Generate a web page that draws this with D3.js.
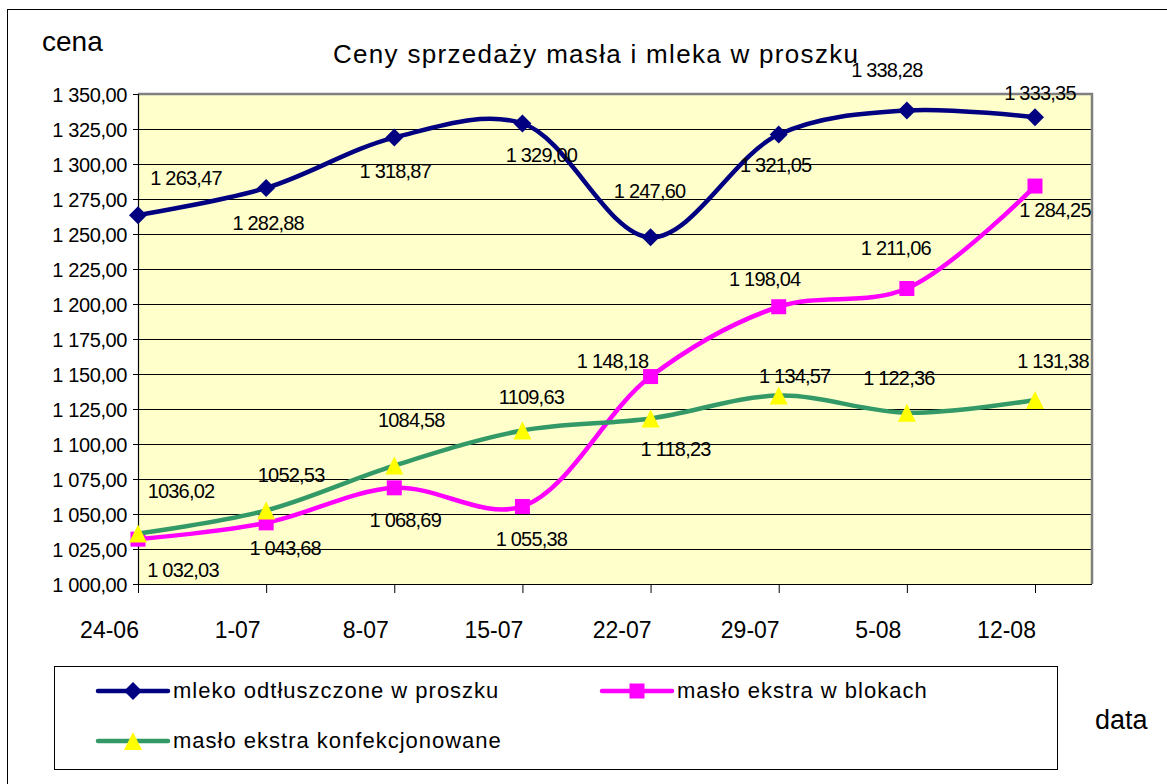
<!DOCTYPE html>
<html>
<head>
<meta charset="utf-8">
<script src="https://cdn.jsdelivr.net/npm/d3@7"></script>
<style>
  html, body { margin: 0; padding: 0; background: #fff; }
  svg { display: block; font-family: "Liberation Sans", Arial, sans-serif; }
</style>
</head>
<body>
<svg id="chart" width="1167" height="784"></svg>
<script>
// ---- data ----
const categories = ["24-06", "1-07", "8-07", "15-07", "22-07", "29-07", "5-08", "12-08"];
const mleko = [1263.47, 1282.88, 1318.87, 1329.00, 1247.60, 1321.05, 1338.28, 1333.35];
const blokach = [1032.03, 1043.68, 1068.69, 1055.38, 1148.18, 1198.04, 1211.06, 1284.25];
const konfekcjonowane = [1036.02, 1052.53, 1084.58, 1109.63, 1118.23, 1134.57, 1122.36, 1131.38];
const konfGrouped = [false, false, false, false, true, true, true, true];
const yTicks = [1000, 1025, 1050, 1075, 1100, 1125, 1150, 1175, 1200, 1225, 1250, 1275, 1300, 1325, 1350];
const seriesNames = ["mleko odtłuszczone w proszku", "masło ekstra w blokach", "masło ekstra konfekcjonowane"];
const title = "Ceny sprzedaży masła i mleka w proszku";
const yTitle = "cena";
const xTitle = "data";

// ---- label placement (offsets relative to the point, px) ----
const offMleko = [[48,-30],[2,42],[1,40],[19,39],[-1,-39],[-3,37],[-20,-33],[5,-17]];
const offBlok = [[45,38],[19,32],[11,39],[9,40],[-38,-9],[-14,-21],[-11,-34],[20,31]];
const offKonf = [[43,-36],[25,-28],[17,-39],[9,-27],[25,38],[16,-13],[-8,-28],[18,-32]];

// ---- formatting ----
function fmt(v, grouped) {
  const parts = v.toFixed(2).split(".");
  let int = parts[0];
  if (grouped) int = int.replace(/\B(?=(\d{3})+(?!\d))/g, " ");
  return int + "," + parts[1];
}

const svg = d3.select("#chart");
const plot = { left: 138, top: 94, right: 1092, bottom: 584 };

const x = d3.scalePoint().domain(categories).range([138, 1035]);
const y = d3.scaleLinear().domain([1000, 1350]).range([plot.bottom, plot.top]);

// outer chart border
svg.append("rect").attr("x", 7.5).attr("y", 9.5).attr("width", 1200).attr("height", 800)
  .attr("fill", "#fff").attr("stroke", "#000").attr("stroke-width", 1);

// plot background
svg.append("rect").attr("x", plot.left).attr("y", plot.top)
  .attr("width", plot.right - plot.left).attr("height", plot.bottom - plot.top)
  .attr("fill", "#FFFFCC");

// gridlines
svg.append("g").selectAll("line").data(yTicks.filter(t => t > 1000 && t < 1350)).join("line")
  .attr("x1", plot.left).attr("x2", plot.right)
  .attr("y1", d => Math.round(y(d)) + 0.5).attr("y2", d => Math.round(y(d)) + 0.5)
  .attr("stroke", "#000").attr("stroke-width", 1);

// plot border (gray)
svg.append("path")
  .attr("d", `M${plot.left},${plot.top} H${plot.right} V${plot.bottom}`)
  .attr("fill", "none").attr("stroke", "#808080").attr("stroke-width", 2.5);

// y axis
const yAxis = d3.axisLeft(y).tickValues(yTicks).tickSize(5).tickPadding(6)
  .tickFormat(d => fmt(d, true));
const gy = svg.append("g").attr("transform", `translate(${plot.left},0)`).call(yAxis);
gy.select(".domain").attr("stroke", "#000").attr("stroke-width", 1.2);
gy.selectAll(".tick line").attr("stroke", "#000");
gy.selectAll(".tick text").attr("font-size", 20).attr("letter-spacing", "-0.4px")
  .attr("fill", "#000").attr("font-family", "Liberation Sans, Arial, sans-serif").attr("dy", "0.35em");

// x axis
const xAxis = d3.axisBottom(x).tickSize(9).tickPadding(0).tickFormat(d => d);
const gx = svg.append("g").attr("transform", `translate(0,${plot.bottom})`).call(xAxis);
gx.select(".domain").attr("d", `M${plot.left},0.5H${plot.right}`).attr("stroke", "#000").attr("stroke-width", 1.2);
gx.selectAll(".tick line").attr("stroke", "#000");
gx.selectAll(".tick text").attr("font-size", 23).attr("fill", "#000")
  .attr("font-family", "Liberation Sans, Arial, sans-serif")
  .attr("x", -29).attr("y", 54).attr("dy", 0);

// series
const series = [
  { name: seriesNames[0], values: mleko, color: "#000080", marker: "diamond", mfill: "#000080", off: offMleko, grouped: mleko.map(() => true) },
  { name: seriesNames[1], values: blokach, color: "#FF00FF", marker: "square", mfill: "#FF00FF", off: offBlok, grouped: blokach.map(() => true) },
  { name: seriesNames[2], values: konfekcjonowane, color: "#339966", marker: "triangle", mfill: "#FFFF00", off: offKonf, grouped: konfGrouped }
];

const line = d3.line()
  .x((d, i) => x(categories[i]))
  .y(d => y(d))
  .curve(d3.curveCatmullRom.alpha(0.5));

function markerPath(type) {
  if (type === "diamond") return "M0,-9 L9,0 L0,9 L-9,0 Z";
  if (type === "square") return "M-7.5,-7.5 H7.5 V7.5 H-7.5 Z";
  return "M0,-9 L9,9 L-9,9 Z";
}

// series drawn in order, later series on top
series.forEach(s => {
  const g = svg.append("g");
  g.append("path").datum(s.values).attr("d", line)
    .attr("fill", "none").attr("stroke", s.color).attr("stroke-width", 4.5)
    .attr("stroke-linejoin", "round");
  g.append("g").selectAll("path").data(s.values).join("path")
    .attr("transform", (d, i) => `translate(${x(categories[i])},${y(d)})`)
    .attr("d", markerPath(s.marker))
    .attr("fill", s.mfill);
});

// data labels
series.forEach(s => {
  svg.append("g").selectAll("text").data(s.values).join("text")
    .attr("x", (d, i) => x(categories[i]) + s.off[i][0])
    .attr("y", (d, i) => y(d) + s.off[i][1])
    .attr("text-anchor", "middle")
    .attr("font-size", 20).attr("letter-spacing", "-0.8px").attr("fill", "#000")
    .text((d, i) => fmt(d, s.grouped[i]));
});

// title
svg.append("text").attr("x", 333).attr("y", 63).attr("font-size", 26)
  .attr("letter-spacing", "1.3px").attr("fill", "#000").text(title);

// axis titles
svg.append("text").attr("x", 42).attr("y", 51).attr("font-size", 28).attr("fill", "#000").text(yTitle);
svg.append("text").attr("x", 1095).attr("y", 729).attr("font-size", 27).attr("fill", "#000").text(xTitle);

// legend
const lg = svg.append("g");
lg.append("rect").attr("x", 54.5).attr("y", 666.5).attr("width", 1003).attr("height", 103)
  .attr("fill", "#fff").attr("stroke", "#000").attr("stroke-width", 1);
const legendPos = [[98, 691], [602, 691], [98, 741]];
series.forEach((s, i) => {
  const [lx, ly] = legendPos[i];
  const g = lg.append("g").attr("transform", `translate(${lx},${ly})`);
  g.append("line").attr("x1", 0).attr("x2", 70).attr("y1", 0).attr("y2", 0)
    .attr("stroke", s.color).attr("stroke-width", 4.5).attr("stroke-linecap", "round");
  g.append("path").attr("transform", "translate(35,0)").attr("d", markerPath(s.marker)).attr("fill", s.mfill);
  g.append("text").attr("x", 75).attr("y", 7).attr("font-size", 22).attr("letter-spacing", "1px")
    .attr("fill", "#000").text(s.name);
});
</script>
</body>
</html>
